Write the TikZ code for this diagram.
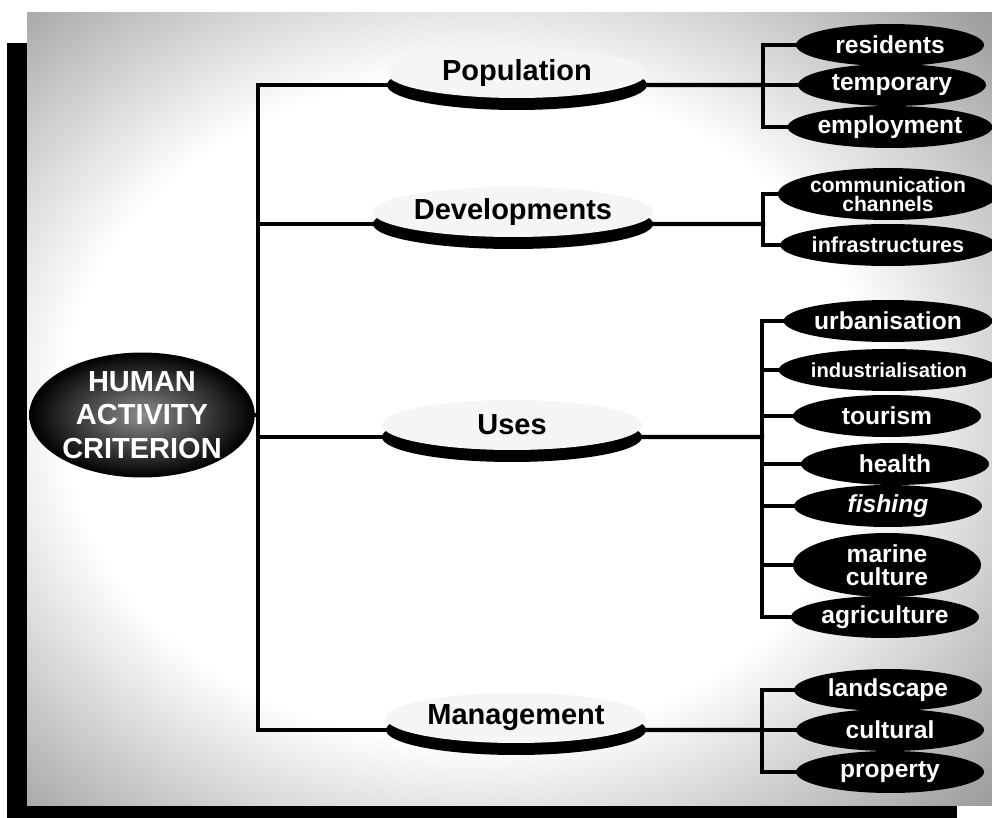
\documentclass[tikz,border=0pt]{standalone}
\usepackage{fontspec}
\setmainfont{Liberation Sans}
\usetikzlibrary{shapes.geometric,shadows}
\pgfdeclareradialshading{vignette}{\pgfpoint{-3bp}{0bp}}{color(0bp)=(white); color(21bp)=(white); color(36bp)=(black!38); color(50bp)=(black!62); color(62bp)=(black!78); color(75bp)=(black!88)}

\begin{document}
\begin{tikzpicture}[x=0.02cm, y=-0.02cm,
	criterion/.style={ellipse, shading=radial, inner color=black!45, outer color=black, text=white, font=\fontsize{16.5}{19}\selectfont\bfseries, align=center, minimum width=4.34cm, minimum height=2.5cm, inner sep=0pt},
	topic/.style={ellipse, fill=black!4, font=\fontsize{16.5}{19}\selectfont\bfseries, minimum width=5.2cm, minimum height=1cm, inner sep=0pt, drop shadow={shadow xshift=0cm, shadow yshift=-0.24cm, fill=black, opacity=1}},
	item/.style={ellipse, fill=black, text=white, font=\fontsize{14}{10.5}\selectfont\bfseries, align=center, minimum width=3.76cm, minimum height=0.84cm, inner sep=0pt},
	link/.style={line width=2.5pt, line cap=rect}]
	\useasboundingbox (0,0) rectangle (992,818);
	% background and its shadow
	\fill[black] (7,43) rectangle (957,818);
	\shade[shading=vignette] (27,12) rectangle (992,805);
	% criterion and topics
	\node[criterion] (hac) at (142,415) {HUMAN\\ACTIVITY\\CRITERION};
	\node[topic] (pop) at (517,73) {Population};
	\node[topic] (dev) at (513,212) {Developments};
	\node[topic] (uses) at (512,425) {Uses};
	\node[topic] (man) at (516,718) {Management};
	% items
	\node[item] (res) at (890,45) {residents};
	\node[item] (temp) at (892,85) {temporary};
	\node[item] (emp) at (890,127) {employment};
	\node[item, minimum height=1.04cm, font=\fontsize{12}{10.8}\selectfont\bfseries] (comm) at (888,194) {communication\\channels};
	\node[item, font=\fontsize{12.3}{10}\selectfont\bfseries] (infra) at (888,245) {infrastructures};
	\node[item] (urb) at (888,321) {urbanisation};
	\node[item, font=\fontsize{11.5}{10}\selectfont\bfseries] (ind) at (889,370) {industrialisation};
	\node[item] (tour) at (887,416) {tourism};
	\node[item] (health) at (895,464) {health};
	\node[item] (fish) at (888,506) {\itshape fishing};
	\node[item, minimum height=1.28cm, font=\fontsize{14}{13}\selectfont\bfseries] (marine) at (887,565) {marine\\culture};
	\node[item] (agri) at (885,617) {agriculture};
	\node[item] (land) at (888,690) {landscape};
	\node[item] (cult) at (890,730) {cultural};
	\node[item] (prop) at (890,772) {property};
	% junctions
	\coordinate (hub) at (258,415);
	\coordinate (popbr) at (763,85);
	\coordinate (devbr) at (763,224);
	\coordinate (usebr) at (762,437);
	\coordinate (manbr) at (762,730);
	% trunk
	\draw[link] (hac.east) -- (hub);
	\draw[link] ([yshift=-0.24cm]pop.west) -| (hub);
	\draw[link] ([yshift=-0.24cm]dev.west) -| (hub);
	\draw[link] ([yshift=-0.24cm]uses.west) -| (hub);
	\draw[link] ([yshift=-0.24cm]man.west) -| (hub);
	% brackets
	\draw[link] ([yshift=-0.24cm]pop.east) -- (popbr);
	\draw[link] (res.west) -| (popbr);
	\draw[link] (temp.west) -| (popbr);
	\draw[link] (emp.west) -| (popbr);
	\draw[link] ([yshift=-0.24cm]dev.east) -- (devbr);
	\draw[link] (comm.west) -| (devbr);
	\draw[link] (infra.west) -| (devbr);
	\draw[link] ([yshift=-0.24cm]uses.east) -- (usebr);
	\draw[link] (urb.west) -| (usebr);
	\draw[link] (ind.west) -| (usebr);
	\draw[link] (tour.west) -| (usebr);
	\draw[link] (health.west) -| (usebr);
	\draw[link] (fish.west) -| (usebr);
	\draw[link] (marine.west) -| (usebr);
	\draw[link] (agri.west) -| (usebr);
	\draw[link] ([yshift=-0.24cm]man.east) -- (manbr);
	\draw[link] (land.west) -| (manbr);
	\draw[link] (cult.west) -| (manbr);
	\draw[link] (prop.west) -| (manbr);
\end{tikzpicture}
\end{document}
